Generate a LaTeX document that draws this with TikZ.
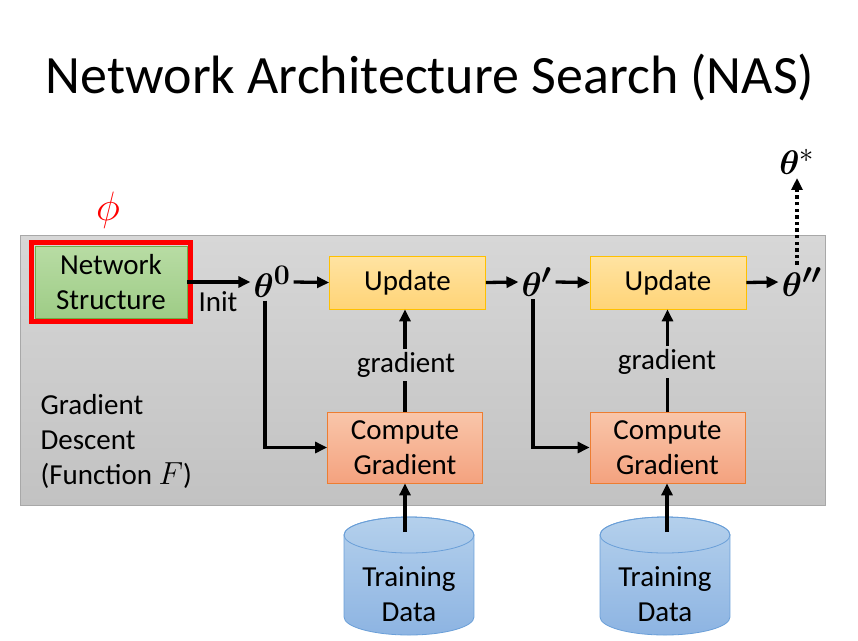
\RequirePackage{fix-cm}
\documentclass[tikz,border=0pt]{standalone}
\usepackage{graphicx}
\usepackage{amsmath,bm}
\usepackage{fontspec}
\setmainfont{Carlito}
\usetikzlibrary{arrows.meta}

\definecolor{panelTop}{HTML}{D7D7D7}
\definecolor{panelBot}{HTML}{C2C2C2}
\definecolor{panelLine}{HTML}{A8A8A8}
\definecolor{netTop}{HTML}{B8DCA4}
\definecolor{netBot}{HTML}{9ECC86}
\definecolor{netLine}{HTML}{70AD47}
\definecolor{updTop}{HTML}{FFE3A2}
\definecolor{updBot}{HTML}{FFD477}
\definecolor{updLine}{HTML}{FFC000}
\definecolor{cgTop}{HTML}{F9C6AA}
\definecolor{cgBot}{HTML}{F4A27F}
\definecolor{cgLine}{HTML}{ED7D31}
\definecolor{dbTop}{HTML}{B4D0EC}
\definecolor{dbBot}{HTML}{8DB4E2}
\definecolor{dbLine}{HTML}{6A9FD8}

% enlarged math symbols (math fonts stop growing near 25pt)
\newcommand{\bigmath}[2]{\scalebox{#1}{$#2$}}

\tikzset{
  flow/.style={line width=3.3pt, -{Triangle[length=12pt,width=11pt]}},
  link/.style={line width=3.3pt},
  dotflow/.style={line width=3.3pt, dash pattern=on 3.3pt off 3.3pt, -{Triangle[length=12pt,width=11pt]}},
  netbox/.style={draw=netLine, line width=0.8pt, top color=netTop, bottom color=netBot,
    minimum width=152pt, minimum height=72pt, inner sep=0pt, align=center},
  updbox/.style={draw=updLine, line width=0.8pt, top color=updTop, bottom color=updBot,
    minimum width=156pt, minimum height=53pt, inner sep=0pt, align=center},
  cgbox/.style={draw=cgLine, line width=0.8pt, top color=cgTop, bottom color=cgBot,
    minimum width=155pt, minimum height=71pt, inner sep=0pt, align=center},
  th/.style={inner sep=3pt, font=\fontsize{24.88}{30}\selectfont},
  lbl/.style={inner sep=3pt},
  db/.style={draw=dbLine, line width=0.8pt, top color=dbTop, bottom color=dbBot},
}

\begin{document}
\begin{tikzpicture}[x=1pt, y=-1pt, font=\fontsize{29}{35}\selectfont]
\useasboundingbox (0,0) rectangle (858,640);
\fill[white] (0,0) rectangle (858,640);

% title
\node[font=\fontsize{54}{60}\selectfont, text=black] (title) at (430,77) {Network Architecture Search (NAS)};

% gradient descent panel
\draw[panelLine, line width=0.8pt, top color=panelTop, bottom color=panelBot] (20,235) rectangle (825,505);

% network structure with its red frame and phi
\node[netbox] (net) at (111,282) {Network\\Structure};
\draw[red, line width=5pt] ([shift={(-3,-3)}]net.north west) rectangle ([shift={(3,3)}]net.south east);
\node[text=red, font=\fontsize{24.88}{30}\selectfont] (phi) at (108,210) {\bigmath{1.65}{\phi}};

% parameters
\node[th] (t0) at (272,282) {\bigmath{1.37}{\bm{\theta^0}}};
\node[th] (t1) at (537,282) {\bigmath{1.37}{\bm{\theta'}}};
\node[th] (t2) at (802,282) {\bigmath{1.37}{\bm{\theta''}}};
\node[th] (ts) at (797,162) {\bigmath{1.37}{\bm{\theta}^{*}}};
\node (init) at (218,302) {Init};

% update and gradient blocks
\node[updbox] (u1) at (407.5,282.5) {\raisebox{-2pt}{Update}};
\node[updbox] (u2) at (668,282.5) {\raisebox{-2pt}{Update}};
\node[cgbox] (c1) at (405,447.5) {Compute\\Gradient};
\node[cgbox] (c2) at (667.5,447.5) {Compute\\Gradient};
\node[lbl] (g1) at (406,365) {gradient};
\node[lbl] (g2) at (667,362) {gradient};

\node[align=left, anchor=west] (gd) at (37,441) {Gradient\\Descent\\(Function \bigmath{1.1}{F})};

% training data cylinders
\foreach \cx/\nm in {409/d1, 665/d2}{
  \path[db] (\cx-65,535) -- (\cx-65,617)
     arc[start angle=180, end angle=360, x radius=65pt, y radius=18pt]
     -- (\cx+65,535)
     arc[start angle=0, end angle=180, x radius=65pt, y radius=18pt] -- cycle;
  \draw[dbLine, line width=0.8pt] (\cx,535) ellipse[x radius=65pt, y radius=18pt];
  \node[align=center] (\nm) at (\cx,594) {Training\\Data};
}
\coordinate (d1top) at (405,532);
\coordinate (d2top) at (667,532);

% connectors
\draw[flow] (net.east |- t0) -- (t0.west);
\draw[flow] (t0.east) -- (u1.west);
\draw[flow] (u1.east) -- (t1.west);
\draw[flow] (t1.east) -- (u2.west);
\draw[flow] (u2.east) -- (t2.west);
\draw[dotflow] (t2.north -| ts.south) -- (ts.south);

\draw[flow] ([xshift=-7pt]t0.south) |- (c1.west);
\draw[flow] ([xshift=-4pt]t1.south) |- (c2.west);

\draw[link] (c1.north) -- (g1.south -| c1.north);
\draw[flow] (g1.north -| c1.north) -- (u1.south -| c1.north);
\draw[link] (c2.north) -- (g2.south -| c2.north);
\draw[flow] (g2.north -| c2.north) -- (u2.south -| c2.north);

\draw[flow] (d1top) -- (c1.south -| d1top);
\draw[flow] (d2top) -- (c2.south -| d2top);
\end{tikzpicture}
\end{document}
